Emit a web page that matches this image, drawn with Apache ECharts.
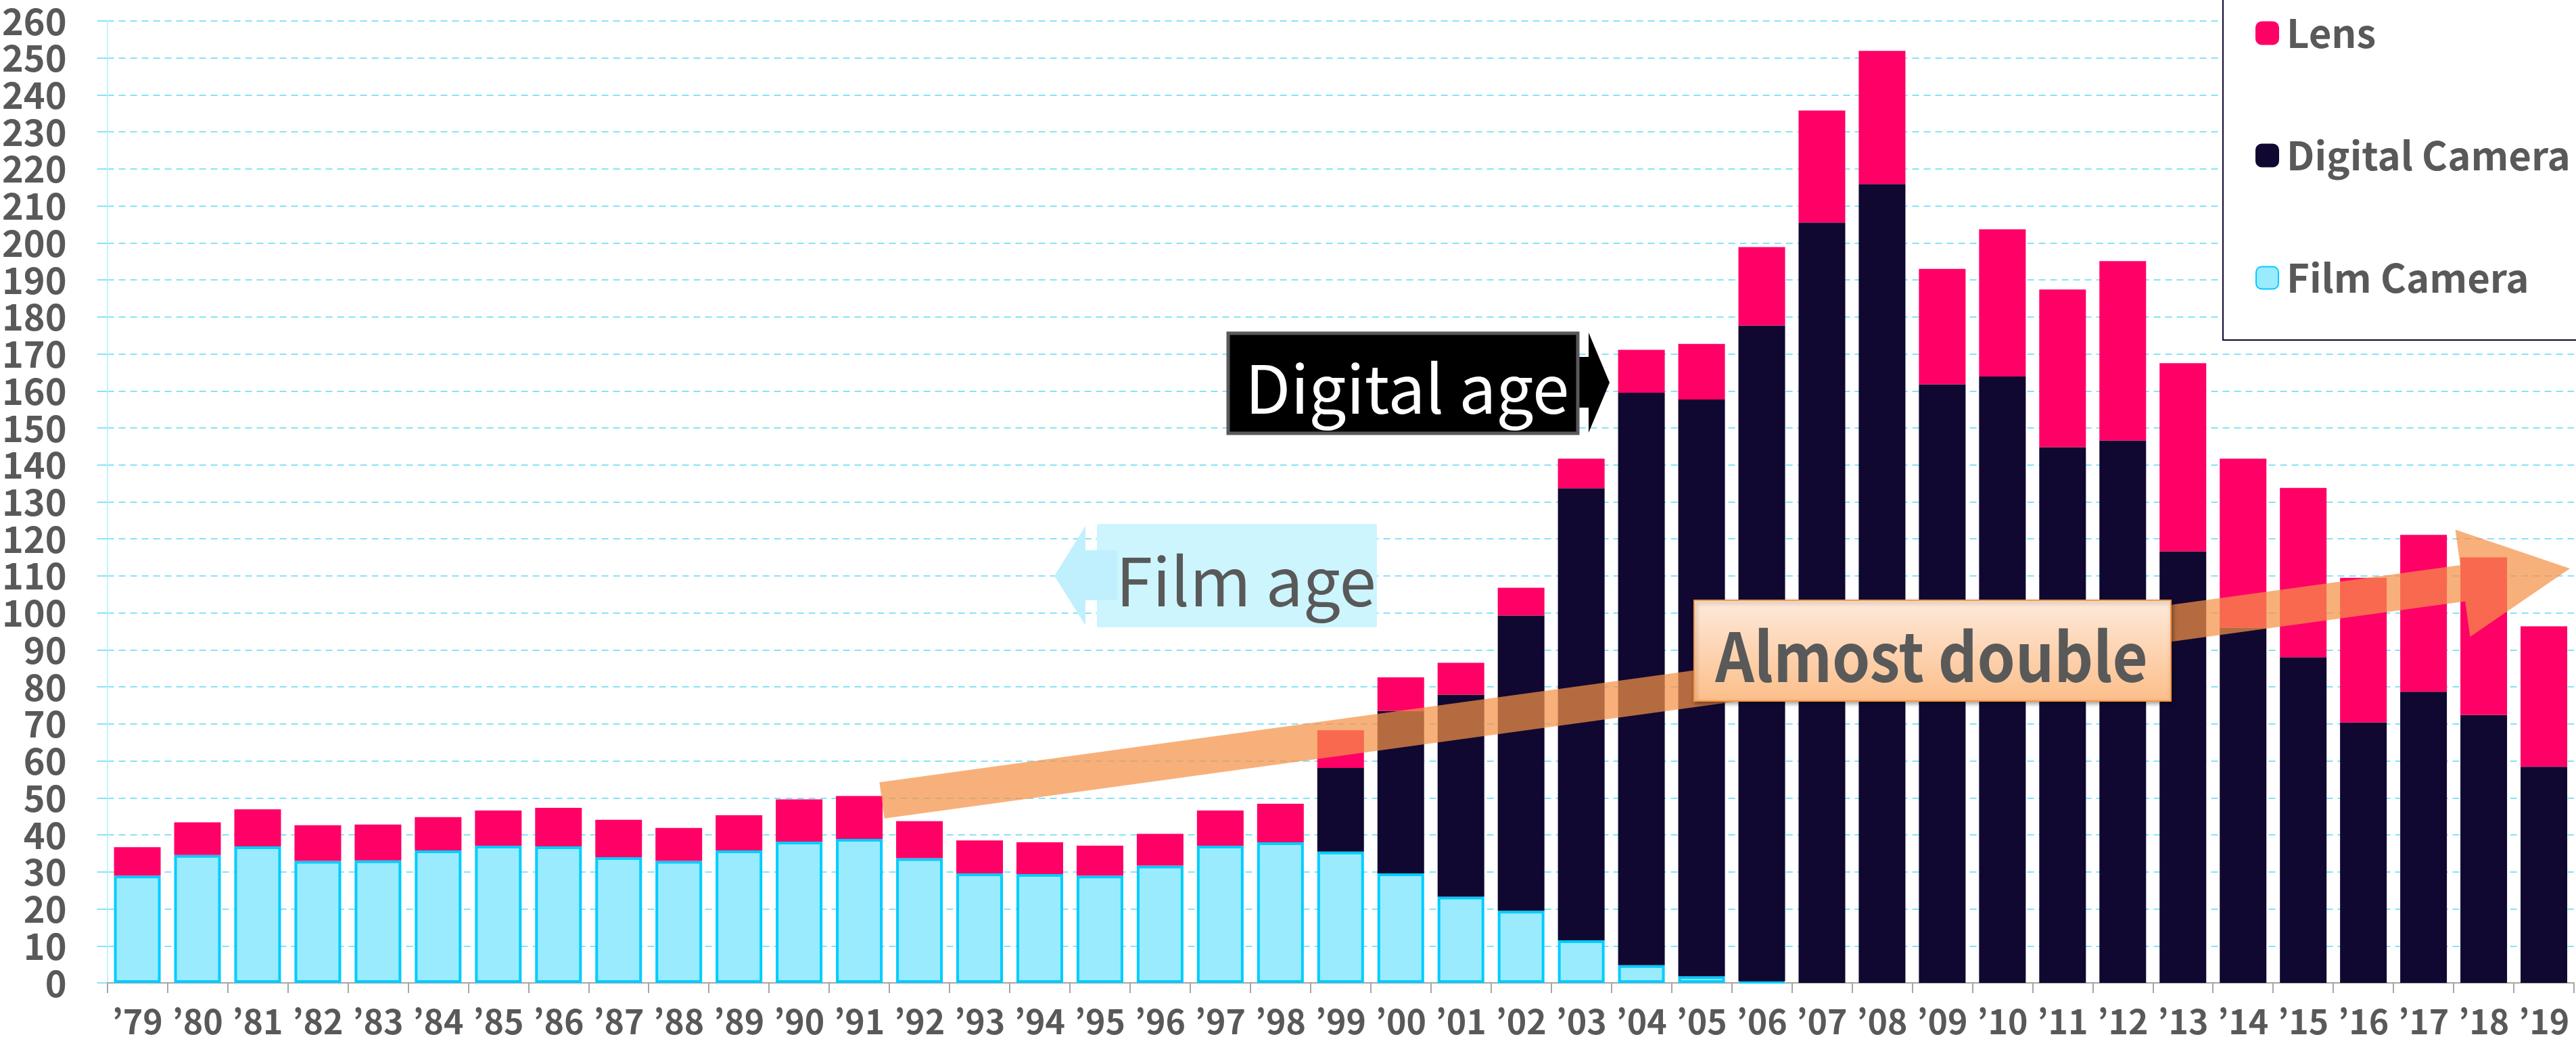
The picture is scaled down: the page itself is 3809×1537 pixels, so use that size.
<!DOCTYPE html>
<html>
<head>
<meta charset="utf-8">
<script src="https://cdn.jsdelivr.net/npm/echarts@6/dist/echarts.min.js"></script>
<style>
  html, body { margin: 0; padding: 0; background: #fff; }
  #chart { width: 3809px; height: 1537px; }
</style>
</head>
<body>
<div id="chart"></div>
<script>
// categories and values (units per year)
var years = ['’79','’80','’81','’82','’83','’84','’85','’86','’87','’88','’89','’90','’91','’92','’93','’94','’95','’96','’97','’98','’99',
             '’00','’01','’02','’03','’04','’05','’06','’07','’08','’09','’10','’11','’12','’13','’14','’15','’16','’17','’18','’19'];

var filmCamera = [29.0, 34.6, 36.9, 33.0, 33.1, 35.8, 37.1, 36.9, 34.0, 33.0, 35.8, 38.2, 38.9, 33.7, 29.6, 29.4, 29.0, 31.7, 37.1, 38.0, 35.5,
                  29.6, 23.3, 19.5, 11.5, 4.8, 1.8, 0.4, null, null, null, null, null, null, null, null, null, null, null, null, null];

var digitalCamera = [null, null, null, null, null, null, null, null, null, null, null, null, null, null, null, null, null, null, null, null, 22.6,
                     43.9, 54.6, 79.8, 122.2, 154.7, 155.9, 177.3, 205.5, 215.9, 161.8, 163.9, 144.8, 146.6, 116.6, 96.0, 88.0, 70.4, 78.7, 72.4, 58.4];

var lens = [7.7, 8.8, 10.0, 9.6, 9.7, 9.0, 9.5, 10.4, 10.1, 8.9, 9.5, 11.4, 11.6, 10.0, 8.9, 8.6, 8.1, 8.6, 9.5, 10.4, 10.2,
            9.1, 8.6, 7.5, 8.0, 11.6, 15.0, 21.2, 30.3, 36.0, 31.2, 39.8, 42.6, 48.5, 50.9, 45.7, 45.8, 39.1, 42.4, 42.6, 38.0];

var yMin = 0, yMax = 260, yStep = 10;

var TEXT_GRAY = '#595959';
var JP = '"Noto Sans CJK JP", sans-serif';
var GRID_CYAN = '#86E3F7';

var myChart = echarts.init(document.getElementById('chart'));

// the "almost double" arrow: shaft + head, built from its two end points
function arrowPoints(from, to, shaftHalf, headHalf, headLen) {
  var dx = to[0] - from[0], dy = to[1] - from[1];
  var len = Math.sqrt(dx * dx + dy * dy);
  var ux = dx / len, uy = dy / len;
  var nx = -uy, ny = ux;
  var bx = to[0] - ux * headLen, by = to[1] - uy * headLen;
  return [
    [from[0] - nx * shaftHalf, from[1] - ny * shaftHalf],
    [bx - nx * shaftHalf, by - ny * shaftHalf],
    [bx - nx * headHalf, by - ny * headHalf],
    to,
    [bx + nx * headHalf, by + ny * headHalf],
    [bx + nx * shaftHalf, by + ny * shaftHalf],
    [from[0] + nx * shaftHalf, from[1] + ny * shaftHalf]
  ];
}

var option = {
  animation: false,
  backgroundColor: '#fff',
  grid: { left: 153, right: 3, top: 31, bottom: 83 },
  legend: {
    data: ['Lens', 'Digital Camera', 'Film Camera'],
    orient: 'vertical',
    left: 3287,
    top: -10,
    padding: [30, 120, 63, 48],
    itemWidth: 33,
    itemHeight: 33,
    itemGap: 123,
    icon: 'roundRect',
    backgroundColor: '#fff',
    borderColor: '#100830',
    borderWidth: 2,
    borderRadius: 0,
    textStyle: {
      color: TEXT_GRAY,
      fontFamily: JP,
      fontWeight: 'bold',
      fontSize: 58,
      padding: [0, 0, 0, 7]
    }
  },
  xAxis: {
    type: 'category',
    data: years,
    axisLine: { lineStyle: { color: '#A6A6A6', width: 2 } },
    axisTick: { show: true, length: 15, lineStyle: { color: '#A6A6A6', width: 2 } },
    axisLabel: {
      color: TEXT_GRAY,
      fontFamily: JP,
      fontWeight: 'bold',
      fontSize: 50,
      margin: 32,
      interval: 0
    }
  },
  yAxis: {
    type: 'value',
    min: yMin,
    max: yMax,
    interval: yStep,
    axisLine: { show: true, lineStyle: { color: '#C5F2FC', width: 2 } },
    axisTick: { show: true, length: 15, lineStyle: { color: GRID_CYAN, width: 2 } },
    axisLabel: {
      color: TEXT_GRAY,
      fontFamily: JP,
      fontWeight: 'bold',
      fontSize: 54,
      margin: 60
    },
    splitLine: { lineStyle: { color: GRID_CYAN, width: 2, type: [10, 7] } }
  },
  series: [
    {
      name: 'Film Camera',
      type: 'bar',
      stack: 'total',
      barWidth: 69,
      data: filmCamera,
      itemStyle: { color: '#9AEBFD', borderColor: '#00CCFF', borderWidth: 4 }
    },
    {
      name: 'Digital Camera',
      type: 'bar',
      stack: 'total',
      data: digitalCamera,
      itemStyle: { color: '#100830', borderColor: '#100830', borderWidth: 4 }
    },
    {
      name: 'Lens',
      type: 'bar',
      stack: 'total',
      data: lens,
      itemStyle: { color: '#FF0066', borderColor: '#FF0066', borderWidth: 4 }
    }
  ],
  graphic: [
    // Film age
    {
      type: 'rect', z: 10,
      shape: { x: 1622, y: 775, width: 414, height: 153, r: 3 },
      style: { fill: '#CCF5FE' }
    },
    {
      type: 'polygon', z: 11,
      shape: { points: [[1559, 852], [1605, 778], [1605, 814], [1652, 814], [1652, 888], [1605, 888], [1605, 925]] },
      style: { fill: '#C0F0FE' }
    },
    {
      type: 'text', z: 12, x: 1650, y: 860,
      style: { text: 'Film age', fill: TEXT_GRAY, fontFamily: JP, fontSize: 98, align: 'left', verticalAlign: 'middle' }
    },
    // Digital age
    {
      type: 'polygon', z: 10,
      shape: { points: [[2330, 528], [2349, 528], [2349, 492], [2380, 566], [2349, 640], [2349, 603], [2330, 603]] },
      style: { fill: '#000' }
    },
    {
      type: 'rect', z: 11,
      shape: { x: 1816, y: 493, width: 517, height: 148 },
      style: { fill: '#000', stroke: '#595959', lineWidth: 5 }
    },
    {
      type: 'text', z: 12, x: 1841, y: 575,
      style: { text: 'Digital age', fill: '#fff', fontFamily: JP, fontSize: 98, align: 'left', verticalAlign: 'middle' }
    },
    // Almost double
    {
      type: 'polygon', z: 20,
      shape: { points: arrowPoints([1304, 1184], [3800, 841], 27, 80, 160) },
      style: { fill: 'rgba(245, 146, 70, 0.72)' }
    },
    {
      type: 'rect', z: 21,
      shape: { x: 2505, y: 888, width: 705, height: 149 },
      style: {
        fill: new echarts.graphic.LinearGradient(0, 0, 0, 1, [
          { offset: 0, color: '#FEEADB' },
          { offset: 1, color: '#FCBE89' }
        ]),
        stroke: '#F79646',
        lineWidth: 2,
        shadowBlur: 6,
        shadowColor: 'rgba(0,0,0,0.35)',
        shadowOffsetX: 2,
        shadowOffsetY: 3
      }
    },
    {
      type: 'text', z: 22, x: 2856, y: 971, scaleX: 0.9,
      style: { text: 'Almost double', fill: TEXT_GRAY, fontFamily: JP, fontWeight: 'bold', fontSize: 100, align: 'center', verticalAlign: 'middle' }
    }
  ]
};

myChart.setOption(option);
</script>
</body>
</html>
